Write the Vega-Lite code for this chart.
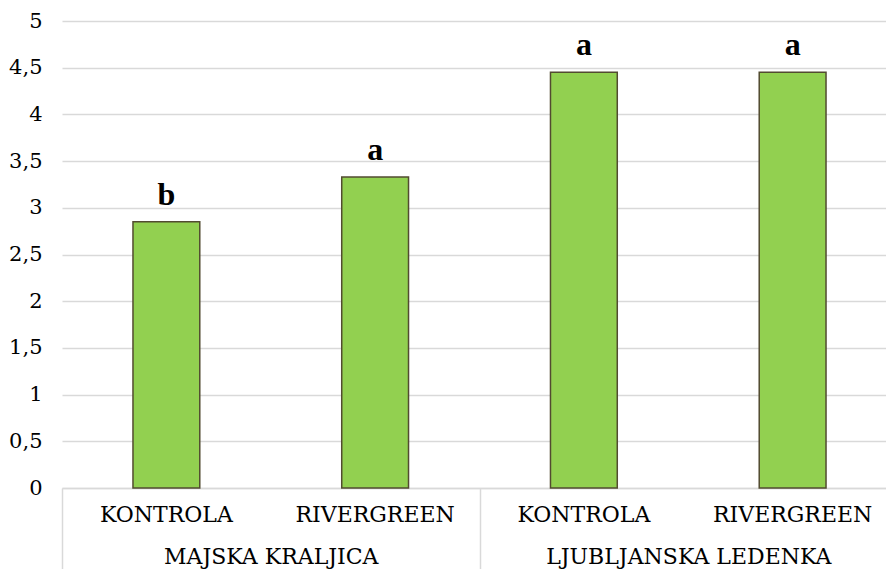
{
  "$schema": "https://vega.github.io/schema/vega-lite/v6.json",
  "autosize": "none",
  "width": 824,
  "height": 467,
  "padding": {"left": 62, "top": 21, "right": 0, "bottom": 81},
  "background": "white",
  "config": {
    "view": {"stroke": null}
  },
  "data": {
    "values": [
      {"grupa": "MAJSKA KRALJICA", "tretman": "KONTROLA", "kategorija": "MAJSKA KRALJICA|KONTROLA", "vrijednost": 2.85, "slovo": "b"},
      {"grupa": "MAJSKA KRALJICA", "tretman": "RIVERGREEN", "kategorija": "MAJSKA KRALJICA|RIVERGREEN", "vrijednost": 3.33, "slovo": "a"},
      {"grupa": "LJUBLJANSKA LEDENKA", "tretman": "KONTROLA", "kategorija": "LJUBLJANSKA LEDENKA|KONTROLA", "vrijednost": 4.45, "slovo": "a"},
      {"grupa": "LJUBLJANSKA LEDENKA", "tretman": "RIVERGREEN", "kategorija": "LJUBLJANSKA LEDENKA|RIVERGREEN", "vrijednost": 4.45, "slovo": "a"}
    ]
  },
  "layer": [
    {
      "encoding": {
        "x": {
          "field": "kategorija", "type": "nominal", "sort": null,
          "scale": {"range": [0, 835], "paddingInner": 0.68, "paddingOuter": 0.34},
          "axis": {
            "orient": "bottom", "title": null, "ticks": false,
            "domain": true, "domainColor": "#d9d9d9", "domainWidth": 1.5,
            "labelExpr": "split(datum.label, '|')[1]",
            "labelFont": "DejaVu Serif", "labelFontSize": 22, "labelColor": "#000000",
            "labelPadding": 16, "labelAngle": 0, "labelOverlap": false, "labelBound": false, "labelLimit": 0
          }
        },
        "y": {
          "field": "vrijednost", "type": "quantitative",
          "scale": {"domain": [0, 5], "nice": false},
          "axis": {
            "title": null, "domain": false, "ticks": false,
            "values": [0, 0.5, 1, 1.5, 2, 2.5, 3, 3.5, 4, 4.5, 5],
            "labelExpr": "replace(toString(datum.value), '.', ',')",
            "labelFont": "DejaVu Serif", "labelFontSize": 21, "labelColor": "#000000",
            "labelPadding": 20,
            "grid": true, "gridColor": "#d9d9d9", "gridWidth": 1.5
          }
        }
      },
      "layer": [
        {
          "mark": {"type": "bar", "fill": "#92d050", "stroke": "#524b30", "strokeWidth": 1.5}
        },
        {
          "mark": {"type": "text", "font": "Liberation Serif", "fontWeight": "bold", "fontSize": 32, "baseline": "alphabetic", "dy": -17, "color": "#000000"},
          "encoding": {
            "text": {"field": "slovo"}
          }
        }
      ]
    },
    {
      "mark": {"type": "rule", "opacity": 0},
      "encoding": {
        "x": {
          "field": "grupa", "type": "nominal", "sort": null,
          "scale": {"range": [0, 835], "paddingInner": 0, "paddingOuter": 0},
          "axis": {
            "orient": "bottom", "title": null, "domain": false, "grid": false,
            "ticks": true, "tickBand": "extent", "tickSize": 81, "tickColor": "#d9d9d9", "tickWidth": 1.5,
            "labelFont": "DejaVu Serif", "labelFontSize": 22, "labelColor": "#000000",
            "labelPadding": -23, "labelAngle": 0, "labelOverlap": false, "labelBound": false, "labelLimit": 0
          }
        }
      }
    }
  ],
  "resolve": {"scale": {"x": "independent"}, "axis": {"x": "independent"}}
}
